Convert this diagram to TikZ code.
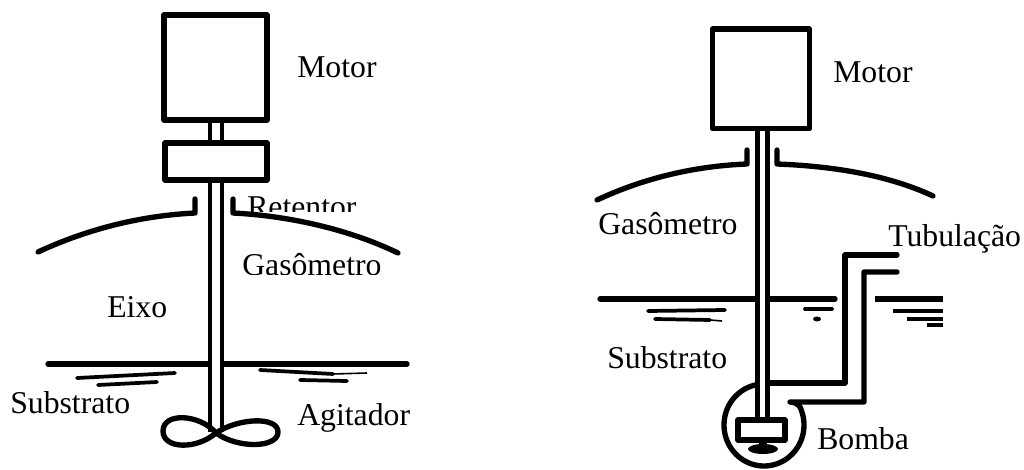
\documentclass[tikz,border=0pt]{standalone}
\usepackage{fontspec}
\setmainfont{Liberation Serif}
\begin{document}
\begin{tikzpicture}[x=0.75pt,y=-0.75pt,
  ink/.style={line width=4pt, line cap=round, line join=round},
  rod/.style={line width=3.3pt},
  ripple/.style={line width=2.8pt, line cap=round},
  lbl/.style={font=\fontsize{23.8}{28}\selectfont, inner sep=0pt, anchor=base west}]
\useasboundingbox (0,0) rectangle (1024,470);

% ---------- digester with mechanical agitator ----------
\draw[ink] (164,15) rectangle (267,120);          % motor
\draw[ink] (165,143) rectangle (267,180);         % seal housing
\draw[rod] (210,120) -- (210,143) (222,120) -- (222,143);
\draw[rod] (210,180) -- (210,432) (222,180) -- (222,432);   % shaft
% gas holder dome with collars around the shaft
\draw[ink] (195,199) -- (195,213) .. controls (140.5,215.7) and (87.5,229) .. (38,252);
\draw[ink] (233,199) -- (233,213) .. controls (287.5,215.7) and (348.5,229) .. (398,253);
% liquid surface
\draw[ink] (48,364) -- (209,364) (223,364) -- (407,364);
\draw[ripple] (77,378) -- (175,373);
\draw[ripple] (98,385) -- (157,382);
\draw[ripple] (260,370) -- (333,374);
\draw[line width=1.2pt] (333,374) -- (367,373);
\draw[ripple] (300,380) -- (347,381);
% propeller
\draw[ink] (216,433) .. controls (200,414) and (163,412) .. (163,431)
  .. controls (163,449) and (196,450) .. (216,433)
  .. controls (238,418) and (278,416) .. (278,432)
  .. controls (278,448) and (238,449) .. (216,433);

\node[lbl] (motorA) at (297,78) {Motor};
\begin{scope}
  \clip (235,185) rectangle (380,212);
  \node[lbl] (retentor) at (247,218) {Retentor};
\end{scope}
\begin{scope}
  \clip (235,245) rectangle (390,275);
  \node[lbl] (gasA) at (242,276) {Gasômetro};
\end{scope}
\node[lbl] (eixo) at (107,317) {Eixo};
\node[lbl] (substA) at (10,413) {Substrato};
\node[lbl] (agitador) at (297,425) {Agitador};

% ---------- digester with recirculation pump ----------
\draw[ink] (712.5,29) rectangle (809.5,128.5);    % motor
\draw[rod] (757.5,128.5) -- (757.5,418) (767.5,128.5) -- (767.5,418);  % shaft
\draw[ink] (747,150) -- (747,164) .. controls (695,166) and (644,178) .. (597,200);
\draw[ink] (777,150) -- (777,164) .. controls (829,166) and (886,174) .. (933,196);
% liquid surface
\draw[ink] (600,299) -- (756,299) (769,299) -- (835,299);
\draw[ink, line cap=butt] (875,299) -- (943,299);
\draw[ripple] (648,311) -- (725,310);
\draw[ripple] (655,319) -- (710,320);
\draw[line width=1.2pt] (710,320) -- (722,321);
\draw[ripple] (805,309) -- (832,309);
\fill (817,319) ellipse [x radius=4, y radius=2.5];
\draw[ripple, line cap=butt] (893,311) -- (943,311);
\draw[ripple, line cap=butt] (907,319) -- (943,319);
\draw[ripple, line cap=butt] (927,325) -- (943,325);
% pump casing and delivery pipe
\draw[ink] (768,383) -- (845,383) -- (845,255) -- (897,255);
\draw[ink] plot[domain=100:380, samples=72] ({764+40*cos(\x)},{425-41*sin(\x)})
  .. controls (801,406) and (796,402) .. (790,402) -- (864,402) -- (864,272) -- (897,272);
% impeller
\draw[ink] (738,420) rectangle (785,440);
\fill (759,440) rectangle (767,446);
\fill (763,449) ellipse [x radius=15, y radius=5];

\node[lbl] (motorB) at (833,83) {Motor};
\node[lbl] (gasB) at (598,235) {Gasômetro};
\node[lbl] (tubo) at (888,247) {Tubulação};
\node[lbl] (substB) at (607,368) {Substrato};
\node[lbl] (bomba) at (817,449) {Bomba};
\end{tikzpicture}
\end{document}
